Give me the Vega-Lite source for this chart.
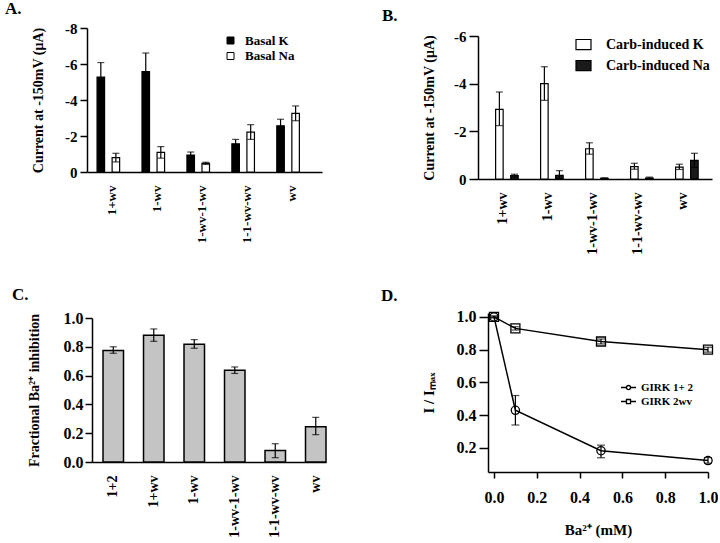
{
  "$schema": "https://vega.github.io/schema/vega-lite/v6.json",
  "background": "white",
  "padding": {"left": 5, "top": 0, "right": 0, "bottom": 0},
  "bounds": "flush",
  "spacing": 285,
  "resolve": {"scale": {"fill": "independent", "shape": "independent"}, "legend": {"fill": "independent", "shape": "independent"}},
  "config": {
    "font": "Liberation Serif",
    "view": {"stroke": null},
    "axis": {
      "labelFont": "Liberation Serif", "titleFont": "Liberation Serif",
      "labelFontWeight": "bold", "titleFontWeight": "bold",
      "labelColor": "black", "titleColor": "black",
      "domainColor": "black", "tickColor": "black",
      "domainWidth": 1.5, "tickWidth": 1.5, "grid": false,
      "labelFontSize": 14, "titleFontSize": 14, "labelOverlap": false
    },
    "legend": {"labelFont": "Liberation Serif", "labelFontWeight": "bold", "labelColor": "black", "padding": 0},
    "title": {"font": "Liberation Serif", "fontSize": 17, "fontWeight": "bold", "color": "black", "anchor": "start", "frame": "group", "baseline": "alphabetic"}
  },
  "vconcat": [
    {
      "bounds": "flush",
      "spacing": 156,
      "resolve": {"scale": {"fill": "independent"}, "legend": {"fill": "independent"}},
      "hconcat": [
        {
          "width": 235, "height": 144,
          "title": {"text": "A.", "dx": -82, "offset": 3},
          "data": {"values": [
            {"g": "1+wv", "s": "Basal K", "v": -5.27, "lo": -4.46, "hi": -6.08},
            {"g": "1+wv", "s": "Basal Na", "v": -0.80, "lo": -0.56, "hi": -1.04},
            {"g": "1-wv", "s": "Basal K", "v": -5.58, "lo": -4.55, "hi": -6.61},
            {"g": "1-wv", "s": "Basal Na", "v": -1.09, "lo": -0.77, "hi": -1.41},
            {"g": "1-wv-1-wv", "s": "Basal K", "v": -0.94, "lo": -0.77, "hi": -1.11},
            {"g": "1-wv-1-wv", "s": "Basal Na", "v": -0.48, "lo": -0.42, "hi": -0.54},
            {"g": "1-1-wv-wv", "s": "Basal K", "v": -1.57, "lo": -1.33, "hi": -1.81},
            {"g": "1-1-wv-wv", "s": "Basal Na", "v": -2.22, "lo": -1.81, "hi": -2.63},
            {"g": "wv", "s": "Basal K", "v": -2.57, "lo": -2.21, "hi": -2.93},
            {"g": "wv", "s": "Basal Na", "v": -3.26, "lo": -2.85, "hi": -3.67}
          ]},
          "encoding": {
            "x": {"field": "g", "type": "nominal", "sort": ["1+wv", "1-wv", "1-wv-1-wv", "1-1-wv-wv", "wv"],
                  "scale": {"paddingInner": 0.33, "paddingOuter": 0.28, "align": 0.4},
                  "axis": {"title": null, "labelAngle": -90, "ticks": false, "labelPadding": 13, "labelFontSize": 13}},
            "xOffset": {"field": "s", "type": "nominal", "sort": ["Basal K", "Basal Na"]}
          },
          "layer": [
            {
              "mark": {"type": "bar", "stroke": "black", "strokeWidth": 1.2},
              "encoding": {
                "y": {"field": "v", "type": "quantitative", "title": "Current at -150mV (μA)", "scale": {"domain": [0, -8], "nice": false},
                      "axis": {"values": [0, -2, -4, -6, -8], "tickCount": 10, "format": "d", "labelExpr": "replace(datum.label, '−', '-')", "tickSize": 7, "labelPadding": 3, "titlePadding": 19, "labelFontSize": 15}},
                "fill": {"field": "s", "type": "nominal", "scale": {"domain": ["Basal K", "Basal Na"], "range": ["black", "white"]},
                         "legend": {"orient": "none", "legendX": 137, "legendY": 6, "title": null, "symbolType": "square", "symbolSize": 49, "symbolStrokeColor": "black", "symbolStrokeWidth": 1, "labelFontSize": 13, "labelOffset": 8, "rowPadding": 1.5}}
              }
            },
            {
              "mark": {"type": "rule", "color": "black", "strokeWidth": 1.2},
              "encoding": {"y": {"field": "lo", "type": "quantitative", "title": "Current at -150mV (μA)"}, "y2": {"field": "hi"}}
            },
            {
              "mark": {"type": "tick", "color": "black", "thickness": 1.2, "size": 7, "orient": "horizontal"},
              "encoding": {"y": {"field": "hi", "type": "quantitative", "title": "Current at -150mV (μA)"}}
            },
            {
              "mark": {"type": "tick", "color": "black", "thickness": 1.2, "size": 7, "orient": "horizontal"},
              "encoding": {"y": {"field": "lo", "type": "quantitative", "title": "Current at -150mV (μA)"}}
            }
          ]
        },
        {
          "width": 234, "height": 151,
          "title": {"text": "B.", "dx": -96, "offset": 3},
          "data": {"values": [
            {"g": "1+wv", "s": "Carb-induced K", "v": -2.92, "lo": -2.24, "hi": -3.65},
            {"g": "1+wv", "s": "Carb-induced Na", "v": -0.14, "lo": -0.09, "hi": -0.20},
            {"g": "1-wv", "s": "Carb-induced K", "v": -4.00, "lo": -3.30, "hi": -4.71},
            {"g": "1-wv", "s": "Carb-induced Na", "v": -0.15, "lo": -0.02, "hi": -0.35},
            {"g": "1-wv-1-wv", "s": "Carb-induced K", "v": -1.27, "lo": -1.04, "hi": -1.52},
            {"g": "1-wv-1-wv", "s": "Carb-induced Na", "v": -0.03, "lo": -0.01, "hi": -0.05},
            {"g": "1-1-wv-wv", "s": "Carb-induced K", "v": -0.52, "lo": -0.41, "hi": -0.66},
            {"g": "1-1-wv-wv", "s": "Carb-induced Na", "v": -0.04, "lo": -0.01, "hi": -0.08},
            {"g": "wv", "s": "Carb-induced K", "v": -0.50, "lo": -0.40, "hi": -0.62},
            {"g": "wv", "s": "Carb-induced Na", "v": -0.78, "lo": -0.48, "hi": -1.08}
          ]},
          "encoding": {
            "x": {"field": "g", "type": "nominal", "sort": ["1+wv", "1-wv", "1-wv-1-wv", "1-1-wv-wv", "wv"],
                  "scale": {"paddingInner": 0.333, "paddingOuter": 0.267, "align": 0.42},
                  "axis": {"title": null, "labelAngle": -90, "ticks": false, "labelPadding": 13, "labelFontSize": 14}},
            "xOffset": {"field": "s", "type": "nominal", "sort": ["Carb-induced K", "Carb-induced Na"]}
          },
          "layer": [
            {
              "mark": {"type": "bar", "stroke": "black", "strokeWidth": 1.2},
              "encoding": {
                "y": {"field": "v", "type": "quantitative", "title": "Current at -150mV (μA)", "scale": {"domain": [0, -6], "nice": false, "range": [151, 8]},
                      "axis": {"values": [0, -2, -4, -6], "tickCount": 10, "format": "d", "labelExpr": "replace(datum.label, '−', '-')", "tickSize": 9, "labelPadding": 3, "titlePadding": 17, "labelFontSize": 15}},
                "fill": {"field": "s", "type": "nominal", "scale": {"domain": ["Carb-induced K", "Carb-induced Na"], "range": ["white", "#1a1a1a"]},
                         "legend": {"orient": "none", "legendX": 97, "legendY": 8, "title": null, "symbolType": "M-1,-0.67H1V0.67H-1Z", "symbolSize": 225, "symbolStrokeColor": "black", "symbolStrokeWidth": 1.2, "labelFontSize": 14, "labelOffset": 14, "rowPadding": 5}}
              }
            },
            {
              "mark": {"type": "rule", "color": "black", "strokeWidth": 1.2},
              "encoding": {"y": {"field": "lo", "type": "quantitative", "title": "Current at -150mV (μA)"}, "y2": {"field": "hi"}}
            },
            {
              "mark": {"type": "tick", "color": "black", "thickness": 1.2, "size": 7, "orient": "horizontal"},
              "encoding": {"y": {"field": "hi", "type": "quantitative", "title": "Current at -150mV (μA)"}}
            },
            {
              "mark": {"type": "tick", "color": "black", "thickness": 1.2, "size": 7, "orient": "horizontal"},
              "encoding": {"y": {"field": "lo", "type": "quantitative", "title": "Current at -150mV (μA)"}}
            }
          ]
        }
      ]
    },
    {
      "bounds": "flush",
      "spacing": 162,
      "resolve": {"scale": {"fill": "independent", "shape": "independent"}, "legend": {"fill": "independent", "shape": "independent"}},
      "hconcat": [
        {
          "width": 239, "height": 149,
          "title": {"text": "C.", "dx": -75, "offset": 6.5},
          "data": {"values": [
            {"g": "1+2", "v": 0.775, "lo": 0.755, "hi": 0.80},
            {"g": "1+wv", "v": 0.88, "lo": 0.838, "hi": 0.924},
            {"g": "1-wv", "v": 0.817, "lo": 0.79, "hi": 0.85},
            {"g": "1-wv-1-wv", "v": 0.637, "lo": 0.615, "hi": 0.66},
            {"g": "1-1-wv-wv", "v": 0.079, "lo": 0.03, "hi": 0.127},
            {"g": "wv", "v": 0.245, "lo": 0.19, "hi": 0.31}
          ]},
          "encoding": {
            "x": {"field": "g", "type": "nominal", "sort": ["1+2", "1+wv", "1-wv", "1-wv-1-wv", "1-1-wv-wv", "wv"],
                  "scale": {"paddingInner": 0.494, "paddingOuter": 0.136, "align": 1, "range": [5, 239]},
                  "axis": {"title": null, "labelAngle": -90, "ticks": false, "labelPadding": 13, "labelFontSize": 14}}
          },
          "layer": [
            {
              "mark": {"type": "bar", "fill": "#c4c4c4", "stroke": "black", "strokeWidth": 1.5},
              "encoding": {
                "y": {"field": "v", "type": "quantitative", "title": "Fractional Ba²⁺ inhibition", "scale": {"domain": [0, 1], "nice": false, "range": [149, 5]},
                      "axis": {"values": [0, 0.2, 0.4, 0.6, 0.8, 1.0], "tickCount": 10, "format": ".1f", "tickSize": 7, "labelPadding": 2, "titlePadding": 22, "labelFontSize": 16, "offset": -5}}
              }
            },
            {
              "mark": {"type": "rule", "color": "black", "strokeWidth": 1.2},
              "encoding": {"y": {"field": "lo", "type": "quantitative", "title": "Fractional Ba²⁺ inhibition"}, "y2": {"field": "hi"}}
            },
            {
              "mark": {"type": "tick", "color": "black", "thickness": 1.2, "size": 7, "orient": "horizontal"},
              "encoding": {"y": {"field": "hi", "type": "quantitative", "title": "Fractional Ba²⁺ inhibition"}}
            },
            {
              "mark": {"type": "tick", "color": "black", "thickness": 1.2, "size": 7, "orient": "horizontal"},
              "encoding": {"y": {"field": "lo", "type": "quantitative", "title": "Fractional Ba²⁺ inhibition"}}
            }
          ]
        },
        {
          "width": 220, "height": 159,
          "title": {"text": "D.", "dx": -107, "offset": 4},
          "data": {"values": [
            {"s": "GIRK 1+ 2", "c": 0.0, "v": 1.0, "lo": 0.995, "hi": 1.005},
            {"s": "GIRK 1+ 2", "c": 0.1, "v": 0.43, "lo": 0.34, "hi": 0.52},
            {"s": "GIRK 1+ 2", "c": 0.5, "v": 0.183, "lo": 0.14, "hi": 0.217},
            {"s": "GIRK 1+ 2", "c": 1.0, "v": 0.123, "lo": 0.107, "hi": 0.141},
            {"s": "GIRK 2wv", "c": 0.0, "v": 1.0, "lo": 0.995, "hi": 1.005},
            {"s": "GIRK 2wv", "c": 0.1, "v": 0.93, "lo": 0.92, "hi": 0.94},
            {"s": "GIRK 2wv", "c": 0.5, "v": 0.85, "lo": 0.835, "hi": 0.865},
            {"s": "GIRK 2wv", "c": 1.0, "v": 0.80, "lo": 0.785, "hi": 0.815}
          ]},
          "encoding": {
            "x": {"field": "c", "type": "quantitative", "title": "Ba²⁺ (mM)", "scale": {"domain": [-0.028, 1.0], "nice": false, "zero": false},
                  "axis": {"values": [0, 0.2, 0.4, 0.6, 0.8, 1.0], "tickCount": 10, "format": ".1f", "tickSize": 6, "labelPadding": 11, "labelFontSize": 16, "titleFontSize": 15, "titlePadding": 17, "labelFlush": false}}
          },
          "layer": [
            {
              "mark": {"type": "line", "color": "black", "strokeWidth": 1.5},
              "encoding": {
                "y": {"field": "v", "type": "quantitative", "title": "I / Iₘₐₓ", "scale": {"domain": [0.053, 1.024], "nice": false, "zero": false},
                      "axis": {"values": [0.2, 0.4, 0.6, 0.8, 1.0], "tickCount": 10, "format": ".1f", "tickSize": 9, "labelPadding": 3, "titlePadding": 20, "labelFontSize": 16, "titleFontSize": 15, "labelFlush": false}},
                "detail": {"field": "s", "type": "nominal"}
              }
            },
            {
              "mark": {"type": "rule", "color": "black", "strokeWidth": 1.2},
              "encoding": {"y": {"field": "lo", "type": "quantitative", "title": "I / Iₘₐₓ"}, "y2": {"field": "hi"}}
            },
            {
              "mark": {"type": "tick", "color": "black", "thickness": 1.2, "size": 8, "orient": "horizontal"},
              "encoding": {"y": {"field": "hi", "type": "quantitative", "title": "I / Iₘₐₓ"}}
            },
            {
              "mark": {"type": "tick", "color": "black", "thickness": 1.2, "size": 8, "orient": "horizontal"},
              "encoding": {"y": {"field": "lo", "type": "quantitative", "title": "I / Iₘₐₓ"}}
            },
            {
              "transform": [{"filter": "datum.s == 'GIRK 1+ 2'"}],
              "mark": {"type": "point", "shape": "circle", "size": 68, "filled": false, "color": "black", "strokeWidth": 1.3, "opacity": 1},
              "encoding": {"y": {"field": "v", "type": "quantitative", "title": "I / Iₘₐₓ"}}
            },
            {
              "transform": [{"filter": "datum.s == 'GIRK 2wv'"}],
              "mark": {"type": "point", "shape": "square", "size": 81, "filled": false, "color": "black", "strokeWidth": 1.3, "opacity": 1},
              "encoding": {"y": {"field": "v", "type": "quantitative", "title": "I / Iₘₐₓ"}}
            },
            {
              "mark": {"type": "point", "opacity": 0},
              "encoding": {
                "y": {"field": "v", "type": "quantitative", "title": "I / Iₘₐₓ"},
                "shape": {"field": "s", "type": "nominal",
                          "scale": {"domain": ["GIRK 1+ 2", "GIRK 2wv"], "range": ["M-1,0H-0.27M0.27,0H1M-0.27,0A0.27,0.27,0,1,0,0.27,0A0.27,0.27,0,1,0,-0.27,0Z", "M-1,0H-0.27M0.27,0H1M-0.27,-0.27H0.27V0.27H-0.27Z"]},
                          "legend": {"orient": "none", "legendX": 132, "legendY": 66, "title": null, "symbolSize": 225, "symbolOpacity": 1, "symbolStrokeColor": "black", "symbolFillColor": "white", "symbolStrokeWidth": 1.3, "labelFontSize": 11, "labelOffset": 4, "rowPadding": 0}}
              }
            }
          ]
        }
      ]
    }
  ]
}
